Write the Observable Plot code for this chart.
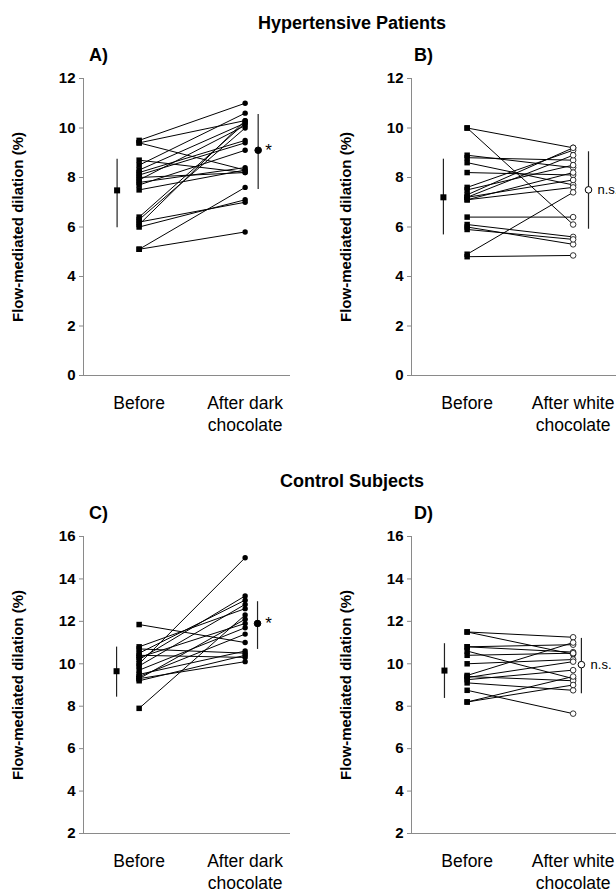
<!DOCTYPE html>
<html><head><meta charset="utf-8">
<script src="https://cdn.jsdelivr.net/npm/d3@7"></script>
<script src="https://cdn.jsdelivr.net/npm/@observablehq/plot@0.6"></script>
<style>
html,body{margin:0;padding:0;background:#fff;}
body{width:616px;height:895px;overflow:hidden;position:relative;font-family:"Liberation Sans",Arial,Helvetica,sans-serif;color:#000;}
.abs{position:absolute;}
.title{font-weight:bold;font-size:18px;width:704px;left:0;text-align:center;line-height:20px;}
.letter{font-weight:bold;font-size:18px;line-height:20px;}
.panel{position:absolute;width:320px;height:410px;overflow:visible;}
</style></head><body>
<div class="abs title" style="top:13px">Hypertensive Patients</div>
<div class="abs letter" style="left:89px;top:45px">A)</div>
<div class="abs letter" style="left:414px;top:45px">B)</div>
<div class="panel" id="pA" style="left:0;top:40px"></div>
<div class="panel" id="pB" style="left:328px;top:40px"></div>
<div class="abs title" style="top:471px">Control Subjects</div>
<div class="abs letter" style="left:89px;top:503px">C)</div>
<div class="abs letter" style="left:414px;top:503px">D)</div>
<div class="panel" id="pC" style="left:0;top:498px"></div>
<div class="panel" id="pD" style="left:328px;top:498px"></div>
<script>
// ---- data ----
const categoriesDark = ["Before", "After dark\nchocolate"];
const categoriesWhite = ["Before", "After white\nchocolate"];
const ticksHypertensive = [0, 2, 4, 6, 8, 10, 12];
const ticksControl = [2, 4, 6, 8, 10, 12, 14, 16];
const yAxisTitle = "Flow-mediated dilation (%)";

// Panel A: hypertensive, dark chocolate (paired subjects)
const aBefore = [9.5, 9.4, 9.4, 8.7, 8.5, 8.3, 8.2, 8.1, 8.0, 7.9, 7.8, 7.7, 7.5, 6.4, 6.3, 6.2, 6.1, 6.0, 5.1, 5.1];
const aAfter  = [11.0, 10.3, 8.3, 8.2, 10.6, 10.2, 9.5, 9.4, 8.2, 10.1, 8.4, 9.1, 8.3, 10.2, 10.0, 7.0, 10.3, 7.1, 7.6, 5.8];
const aMean = [7.48, 9.1];
const aLow  = [5.99, 7.54];
const aHigh = [8.76, 10.57];
const aMark = "*";

// Panel B: hypertensive, white chocolate
const bBefore = [10.0, 10.0, 8.9, 8.8, 8.6, 8.2, 7.6, 7.5, 7.3, 7.2, 7.2, 7.1, 7.1, 6.4, 6.1, 6.0, 5.9, 4.9, 4.8];
const bAfter  = [9.2, 6.1, 8.4, 8.7, 7.7, 8.1, 9.1, 8.5, 9.2, 8.9, 7.9, 8.2, 7.6, 6.4, 5.6, 5.3, 5.5, 7.4, 4.85];
const bMean = [7.2, 7.5];
const bLow  = [5.7, 5.93];
const bHigh = [8.76, 9.06];
const bMark = "n.s.";

// Panel C: controls, dark chocolate
const cBefore = [11.85, 10.8, 10.7, 10.5, 10.4, 10.3, 10.2, 10.0, 9.9, 9.7, 9.5, 9.4, 9.3, 9.2, 9.3, 7.9];
const cAfter  = [11.0, 12.6, 10.5, 13.0, 10.3, 11.9, 13.2, 15.0, 12.8, 11.7, 10.6, 11.4, 10.1, 10.4, 12.1, 12.3];
const cMean = [9.65, 11.9];
const cLow  = [8.45, 10.7];
const cHigh = [10.81, 12.95];
const cMark = "*";

// Panel D: controls, white chocolate
const dBefore = [11.5, 11.5, 10.8, 10.8, 10.6, 10.4, 10.0, 9.45, 9.4, 9.35, 9.25, 9.1, 8.75, 8.2, 8.2];
const dAfter  = [11.25, 10.45, 10.9, 10.55, 9.3, 10.5, 10.2, 11.0, 9.2, 10.1, 9.7, 8.75, 7.65, 9.4, 9.0];
const dMean = [9.68, 9.96];
const dLow  = [8.39, 8.61];
const dHigh = [10.97, 11.22];
const dMark = "n.s.";

// ---- drawing ----
const FONT = '"Liberation Sans", Arial, Helvetica, sans-serif';
const X_DOMAIN = [-0.525, 1.428];
const AXIS_GREY = "#8a8a8a";
function panel(o) {
  const pairs = o.before.map((b, i) => ({b, a: o.after[i]}));
  const idx = [0, 1];
  const yMid = (o.domain[0] + o.domain[1]) / 2;
  return Plot.plot({
    width: 320, height: 410,
    marginLeft: 83, marginRight: 30, marginTop: 38, marginBottom: 75,
    style: {fontFamily: FONT, background: "transparent", overflow: "visible", maxWidth: "none", color: "black"},
    x: {domain: X_DOMAIN},
    y: {domain: o.domain},
    marks: [
      Plot.ruleX([X_DOMAIN[0]], {y1: o.domain[0], y2: o.domain[1], stroke: AXIS_GREY, strokeWidth: 1}),
      Plot.ruleY([o.domain[0]], {x1: X_DOMAIN[0], x2: X_DOMAIN[1], stroke: AXIS_GREY, strokeWidth: 1}),
      Plot.axisY({ticks: o.ticks, tickSize: 4, tickPadding: 4, stroke: AXIS_GREY, fill: "black",
                  fontSize: 15, fontWeight: "bold", label: null}),
      Plot.axisX({ticks: [0, 1], tickSize: 0, tickPadding: 17, stroke: AXIS_GREY, fill: "black",
                  fontSize: 17.5, lineHeight: 1.3, tickFormat: i => o.categories[i], label: null}),
      Plot.text([yAxisTitle], {x: -1.14, y: yMid, rotate: -90, fontWeight: "bold", fontSize: 15, fill: "black"}),
      Plot.link(pairs, {x1: 0, x2: 1, y1: "b", y2: "a", stroke: "black", strokeWidth: 1}),
      Plot.dot(o.before, {x: 0, y: d => d, symbol: "square", fill: "black", r: 3.1}),
      o.openAfter
        ? Plot.dot(o.after, {x: 1, y: d => d, fill: "white", stroke: "black", strokeWidth: 0.8, r: 2.8})
        : Plot.dot(o.after, {x: 1, y: d => d, fill: "black", r: 2.7}),
      Plot.link(idx, {x1: i => o.xMean[i], x2: i => o.xMean[i], y1: i => o.low[i], y2: i => o.high[i], stroke: "#222", strokeWidth: 1.2}),
      Plot.dot([0], {x: o.xMean[0], y: o.mean[0], symbol: "square", fill: "black", r: 3.4}),
      Plot.dot([1], {x: o.xMean[1], y: o.mean[1], r: 3.3, fill: o.openAfter ? "white" : "black", stroke: "black", strokeWidth: 1}),
      Plot.text([o.mark], {x: o.xMark, y: o.mean[1], text: d => d, textAnchor: "start", fontSize: o.mark === "*" ? 17 : 13, fill: "black"})
    ]
  });
}

document.getElementById("pA").append(panel({before: aBefore, after: aAfter, mean: aMean, low: aLow, high: aHigh,
  xMean: [-0.208, 1.123], xMark: 1.19, mark: aMark, ticks: ticksHypertensive, domain: [0, 12], categories: categoriesDark, openAfter: false}));
document.getElementById("pB").append(panel({before: bBefore, after: bAfter, mean: bMean, low: bLow, high: bHigh,
  xMean: [-0.224, 1.145], xMark: 1.23, mark: bMark, ticks: ticksHypertensive, domain: [0, 12], categories: categoriesWhite, openAfter: true}));
document.getElementById("pC").append(panel({before: cBefore, after: cAfter, mean: cMean, low: cLow, high: cHigh,
  xMean: [-0.213, 1.117], xMark: 1.19, mark: cMark, ticks: ticksControl, domain: [2, 16], categories: categoriesDark, openAfter: false}));
document.getElementById("pD").append(panel({before: dBefore, after: dAfter, mean: dMean, low: dLow, high: dHigh,
  xMean: [-0.214, 1.078], xMark: 1.165, mark: dMark, ticks: ticksControl, domain: [2, 16], categories: categoriesWhite, openAfter: true}));
</script>
</body></html>
